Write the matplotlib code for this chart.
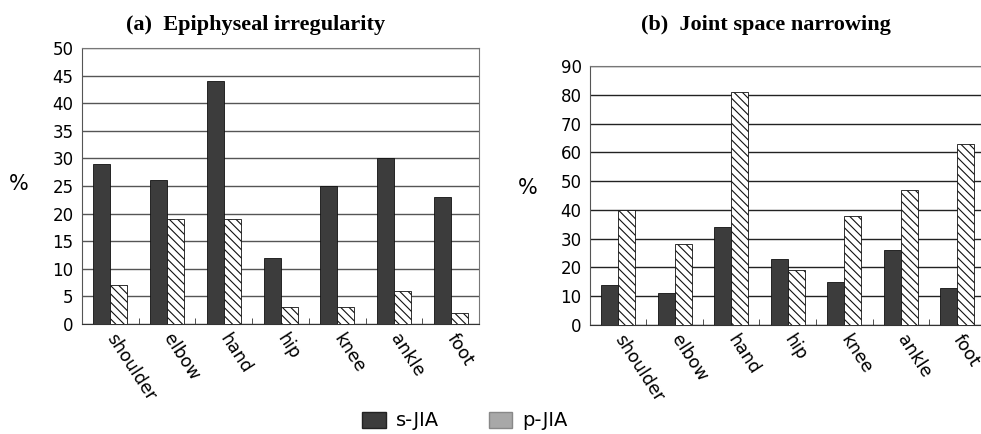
import matplotlib
matplotlib.use("Agg")
import matplotlib.pyplot as plt
from matplotlib.patches import Patch
import numpy as np

plt.rcParams['font.family'] = ['DejaVu Sans']
plt.rcParams['hatch.linewidth'] = 0.8

joints = ["shoulder", "elbow", "hand", "hip", "knee", "ankle", "foot"]

# (a) Epiphyseal irregularity, %
epi_s = [29, 26, 44, 12, 25, 30, 23]
epi_p = [7, 19, 19, 3, 3, 6, 2]

# (b) Joint space narrowing, %
jsn_s = [14, 11, 34, 23, 15, 26, 13]
jsn_p = [40, 28, 81, 19, 38, 47, 63]

dark = "#3c3c3c"
w = 0.3


def draw_panel(ax, s_vals, p_vals, ymax, step, grid_color):
    x = np.arange(len(joints))
    ax.bar(x - w, s_vals, width=w, align="edge", color=dark,
           edgecolor="#111111", linewidth=0.6, zorder=3)
    ax.bar(x, p_vals, width=w, align="edge", color="white",
           edgecolor="#111111", hatch="\\\\\\\\", linewidth=0.6, zorder=3)
    ax.set_xlim(-0.5, len(joints) - 0.5)
    ax.set_ylim(0, ymax)
    ax.set_yticks(np.arange(0, ymax + 1, step))
    ax.yaxis.grid(True, color=grid_color, linewidth=1.0, zorder=0)
    ax.set_axisbelow(True)
    ax.set_xticks(x)
    ax.set_xticklabels(joints, rotation=-57, rotation_mode="anchor",
                       ha="left", va="center", fontsize=12.5)
    ax.set_xticks(np.arange(0.5, len(joints) - 0.5, 1), minor=True)
    ax.tick_params(axis="x", which="major", length=0, pad=8)
    ax.tick_params(axis="x", which="minor", direction="in", length=4,
                   color="#333333")
    ax.tick_params(axis="y", length=0, labelsize=12, pad=6)
    for side in ["top", "right"]:
        ax.spines[side].set_color("#777777")
    ax.spines["left"].set_color("#555555")
    ax.spines["bottom"].set_color("#333333")


fig = plt.figure(figsize=(9.81, 4.34), dpi=100)
ax1 = fig.add_axes([0.0836, 0.2535, 0.4047, 0.636])
ax2 = fig.add_axes([0.6014, 0.2512, 0.4032, 0.5968])

draw_panel(ax1, epi_s, epi_p, 50, 5, "#555555")
draw_panel(ax2, jsn_s, jsn_p, 90, 10, "#222222")

title_kw = dict(ha="center", va="center", fontfamily="Liberation Serif",
                fontweight="bold", fontsize=16)
fig.text(0.261, 0.942, "(a)  Epiphyseal irregularity", **title_kw)
fig.text(0.781, 0.942, "(b)  Joint space narrowing", **title_kw)

fig.text(0.019, 0.575, "%", ha="center", va="center", fontsize=15)
fig.text(0.538, 0.567, "%", ha="center", va="center", fontsize=15)

handles = [Patch(facecolor=dark, edgecolor="#222222", label="s-JIA"),
           Patch(facecolor="#a8a8a8", edgecolor="#888888", label="p-JIA")]
fig.legend(handles=handles, loc="center", bbox_to_anchor=(0.474, 0.03),
           ncol=2, frameon=False, fontsize=14, handlelength=1.2,
           handleheight=0.9, columnspacing=2.6, handletextpad=0.5)

fig.savefig("out.png", dpi=100)
